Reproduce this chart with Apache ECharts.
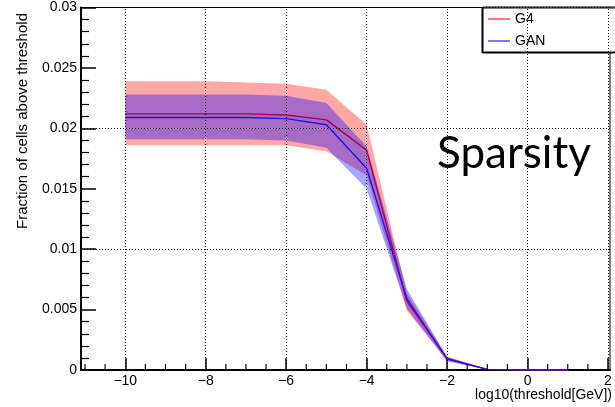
<!DOCTYPE html>
<html>
<head>
<meta charset="utf-8">
<script src="https://cdn.jsdelivr.net/npm/echarts@6/dist/echarts.min.js"></script>
<style>
  body { margin: 0; padding: 0; background: #fff; }
  #chart { width: 615px; height: 407px; }
</style>
</head>
<body>
<div id="chart"></div>
<script>
// log10(threshold) bins
const thresholds = [-10, -9, -8, -7, -6, -5, -4, -3, -2, -1, 0, 1];

// G4: mean and band
const g4Mean = [0.0212, 0.0212, 0.0212, 0.0212, 0.0211, 0.0207, 0.0182, 0.0057, 0.00095, 0.00005, 0, 0];
const g4Low  = [0.0186, 0.0186, 0.0186, 0.0186, 0.0186, 0.0181, 0.0161, 0.0049, 0.0008, 0.00003, 0, 0];
const g4High = [0.0239, 0.0239, 0.0239, 0.0238, 0.0237, 0.0232, 0.0203, 0.0064, 0.0011, 0.00007, 0, 0];

// GAN: mean and band
const ganMean = [0.0209, 0.0209, 0.0209, 0.0209, 0.0208, 0.0203, 0.0167, 0.0059, 0.0009, 0.00005, 0, 0];
const ganLow  = [0.0191, 0.0191, 0.0191, 0.0191, 0.0190, 0.0184, 0.0150, 0.0051, 0.0007, 0.00003, 0, 0];
const ganHigh = [0.0228, 0.0228, 0.0228, 0.0228, 0.0227, 0.0221, 0.0185, 0.0067, 0.0011, 0.00007, 0, 0];

// axis ticks / grid
const xMajorTicks = [-10, -8, -6, -4, -2, 0, 2];
const xMinorTicks = [-11, -10.5, -9.5, -9, -8.5, -7.5, -7, -6.5, -5.5, -5, -4.5,
  -3.5, -3, -2.5, -1.5, -1, -0.5, 0.5, 1, 1.5];
const yGridValues = [0.005, 0.01, 0.015, 0.02, 0.025];

const FONT = '"Liberation Sans", Arial, Helvetica, sans-serif';

const pairs = (ys) => thresholds.map((x, i) => [x, ys[i]]);

// band drawn as one polygon: upper edge left->right, lower edge right->left
function bandSeries(lo, hi, color, z) {
  return {
    type: 'custom', silent: true, z,
    data: thresholds.map((x, i) => [x, lo[i], hi[i]]),
    encode: { x: 0, y: [1, 2] },
    renderItem: (params, api) => {
      if (params.dataIndex !== 0) return null;
      const upper = thresholds.map((x, i) => api.coord([x, hi[i]]));
      const lower = thresholds.map((x, i) => api.coord([x, lo[i]])).reverse();
      return {
        type: 'polygon',
        shape: { points: upper.concat(lower) },
        style: { fill: color, stroke: null }
      };
    }
  };
}

const chart = echarts.init(document.getElementById('chart'), null, { renderer: 'canvas' });

chart.setOption({
  animation: false,
  textStyle: { fontFamily: FONT },
  grid: {
    left: 81, right: 0, top: 7.5, bottom: 37,
    show: true, borderColor: '#000', borderWidth: 1
  },
  legend: {
    left: 483, top: 7,
    orient: 'vertical',
    padding: [5, 90, 4, 5],
    itemWidth: 22, itemHeight: 14, itemGap: 8,
    backgroundColor: '#fff',
    borderColor: '#000', borderWidth: 1,
    shadowColor: '#000', shadowBlur: 0, shadowOffsetX: -1, shadowOffsetY: 1,
    textStyle: { fontFamily: FONT, fontSize: 14, color: '#000' },
    data: [
      { name: 'G4', icon: 'path://M0,0H22V1.4H0Z', itemStyle: { color: '#ff4040' } },
      { name: 'GAN', icon: 'path://M0,0H22V1.4H0Z', itemStyle: { color: '#4040f0' } }
    ]
  },
  xAxis: {
    type: 'value', min: -11.1, max: 2.05,
    axisLine: { show: true, onZero: false, lineStyle: { color: '#000', width: 2 } },
    axisTick: { show: true, inside: true, length: 12, customValues: xMajorTicks,
      lineStyle: { color: '#000', width: 1.5 } },
    axisLabel: { show: true, customValues: xMajorTicks, fontSize: 14, color: '#000',
      fontFamily: FONT, margin: 4,
      formatter: (v) => (v < 0 ? '\u2212' + Math.abs(v) : String(v)) },
    splitLine: { show: false },
    name: 'log10(threshold[GeV])',
    nameLocation: 'end', nameGap: 2,
    nameTextStyle: { fontSize: 14, color: '#000', fontFamily: FONT,
      align: 'right', verticalAlign: 'top', padding: [18, 0, 0, 0] }
  },
  yAxis: {
    type: 'value', min: 0, max: 0.03, interval: 0.005,
    axisLine: { show: true, onZero: false, lineStyle: { color: '#000', width: 2 } },
    axisTick: { show: true, inside: true, length: 15, lineStyle: { color: '#000', width: 1.5 } },
    minorTick: { show: true, splitNumber: 5, length: 8, lineStyle: { color: '#000', width: 1.2 } },
    axisLabel: { fontSize: 14, color: '#000', fontFamily: FONT, margin: 4,
      formatter: (v) => String(parseFloat(v.toFixed(4))) },
    splitLine: { show: false }
  },
  graphic: [
    {
      type: 'text', x: 23, y: 121, rotation: Math.PI / 2,
      style: { text: 'Fraction of cells above threshold', font: '15px ' + FONT,
        fill: '#000', align: 'center', verticalAlign: 'middle' }
    },
    {
      type: 'text', left: 437, top: 132, z: 100,
      style: { text: 'Sparsity', font: '44px Lato, "Open Sans", sans-serif', fill: '#000' }
    }
  ],
  series: [
    bandSeries(g4Low, g4High, 'rgba(255,0,0,0.35)', 2),
    {
      name: 'G4', type: 'line', z: 3, data: pairs(g4Mean), symbol: 'none', silent: true,
      color: '#ff0000', lineStyle: { color: '#ff0000', width: 1.4 }
    },
    bandSeries(ganLow, ganHigh, 'rgba(0,0,255,0.35)', 4),
    {
      name: 'GAN', type: 'line', z: 5, data: pairs(ganMean), symbol: 'none', silent: true,
      color: '#2a10e8', lineStyle: { color: '#2a10e8', width: 1.4 }
    },
    {
      // minor ticks on the x axis (short, inside)
      type: 'custom', silent: true, z: 6, clip: false,
      data: xMinorTicks.map((v) => [v, 0]),
      renderItem: (params, api) => {
        const p = api.coord([api.value(0), 0]);
        return {
          type: 'line',
          shape: { x1: p[0], y1: p[1], x2: p[0], y2: p[1] - 6 },
          style: { stroke: '#000', lineWidth: 1.2 }
        };
      }
    },
    {
      type: 'line', data: [], silent: true, z: 10,
      markLine: {
        silent: true, symbol: 'none', animation: false,
        label: { show: false },
        lineStyle: { color: '#000', type: [1, 2], width: 1 },
        data: [
          ...xMajorTicks.map((v) => ({ xAxis: v })),
          ...yGridValues.map((v) => ({ yAxis: v }))
        ]
      }
    }
  ]
});
</script>
</body>
</html>
